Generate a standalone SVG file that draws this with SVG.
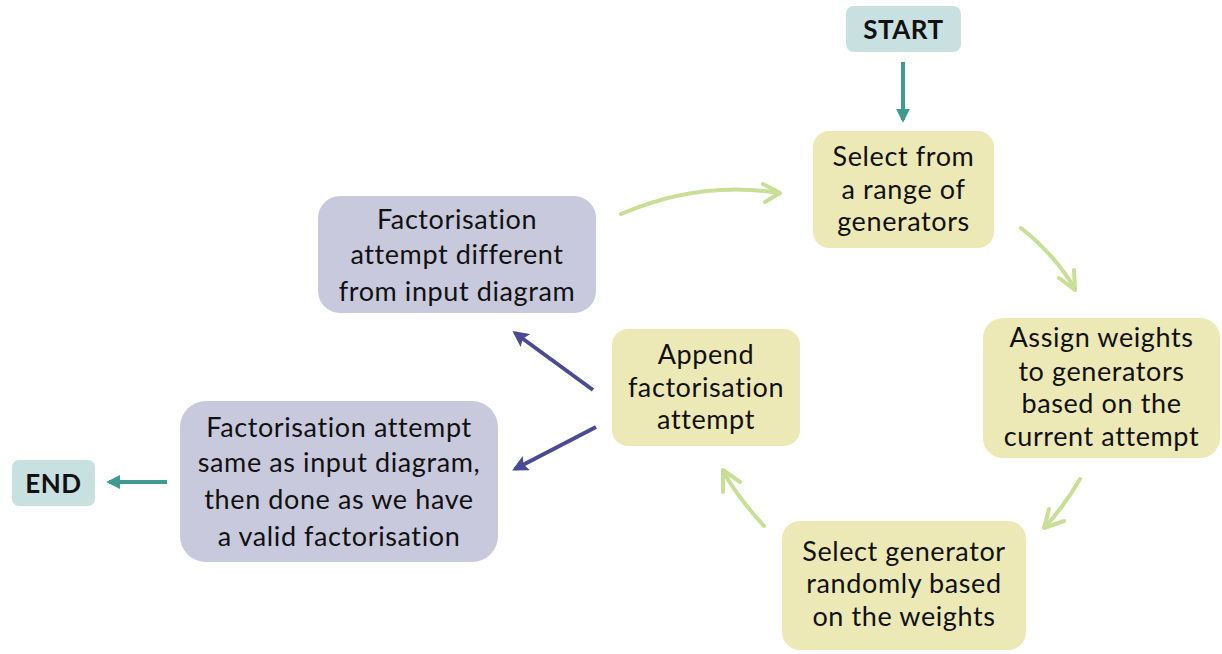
<svg xmlns="http://www.w3.org/2000/svg" width="1222" height="654" viewBox="0 0 1222 654">
<style>
.t{font-family:Lato,"Open Sans",sans-serif;font-size:27px;letter-spacing:0.6px;fill:#111;text-anchor:middle}
.b{font-family:Lato,"Open Sans",sans-serif;font-size:26px;font-weight:bold;letter-spacing:0.5px;fill:#111;text-anchor:middle}
.teal{fill:#c8e0e0}
.yel{fill:#ede9b6}
.pur{fill:#c9c9dd}
.g{fill:none;stroke:#c9de96;stroke-width:4;stroke-linecap:round;stroke-linejoin:round}
.p{fill:none;stroke:#4b4a92;stroke-width:4}
.c{fill:none;stroke:#3f9a8f;stroke-width:4}
</style>
<defs>
<marker id="mp" viewBox="0 0 10 10" refX="8" refY="5" markerWidth="4" markerHeight="4" orient="auto" markerUnits="strokeWidth"><path d="M0,0 L10,5 L0,10 L2,5 z" fill="#4b4a92"/></marker>
<marker id="mc" viewBox="0 0 10 10" refX="8" refY="5" markerWidth="3.5" markerHeight="3.5" orient="auto" markerUnits="strokeWidth"><path d="M0,0 L10,5 L0,10 z" fill="#3f9a8f"/></marker>
</defs>
<rect width="1222" height="654" fill="#fff"/>
<g id="start"><rect class="teal" x="846" y="6" width="115" height="46" rx="8"/><text class="b" x="903.5" y="39">START</text></g>
<g id="n1"><rect class="yel" x="813" y="131" width="181" height="117" rx="16"/>
<text class="t"><tspan x="903.5" y="166">Select from</tspan><tspan x="903.5" y="199">a range of</tspan><tspan x="903.5" y="231">generators</tspan></text></g>
<g id="n2"><rect class="yel" x="983" y="318" width="237" height="140" rx="20"/>
<text class="t"><tspan x="1101.5" y="347">Assign weights</tspan><tspan x="1101.5" y="381">to generators</tspan><tspan x="1101.5" y="413">based on the</tspan><tspan x="1101.5" y="446">current attempt</tspan></text></g>
<g id="n3"><rect class="yel" x="782" y="521" width="244" height="129" rx="18"/>
<text class="t"><tspan x="904" y="561">Select generator</tspan><tspan x="904" y="593">randomly based</tspan><tspan x="904" y="626">on the weights</tspan></text></g>
<g id="n4"><rect class="yel" x="612" y="329" width="188" height="117" rx="16"/>
<text class="t"><tspan x="706" y="364">Append</tspan><tspan x="706" y="397">factorisation</tspan><tspan x="706" y="429">attempt</tspan></text></g>
<g id="n5"><rect class="pur" x="318" y="196" width="278" height="117" rx="22"/>
<text class="t"><tspan x="457" y="229">Factorisation</tspan><tspan x="457" y="264">attempt different</tspan><tspan x="457" y="301">from input diagram</tspan></text></g>
<g id="n6"><rect class="pur" x="180" y="401" width="318" height="161" rx="26"/>
<text class="t"><tspan x="339" y="437">Factorisation attempt</tspan><tspan x="339" y="472">same as input diagram,</tspan><tspan x="339" y="509">then done as we have</tspan><tspan x="339" y="546">a valid factorisation</tspan></text></g>
<g id="end"><rect class="teal" x="12" y="460" width="83" height="46" rx="7"/><text class="b" x="53.5" y="493">END</text></g>
<g id="connectors">
<line class="c" x1="903" y1="62" x2="903" y2="120" marker-end="url(#mc)"/>
<line class="c" x1="167" y1="482" x2="109" y2="482" marker-end="url(#mc)"/>
<line class="p" x1="593" y1="390" x2="515" y2="333" marker-end="url(#mp)"/>
<line class="p" x1="596" y1="427" x2="515" y2="469" marker-end="url(#mp)"/>
<path class="g" d="M621,214 Q700,180 779,193"/><path class="g" d="M763,184 L780,193 L765,202"/>
<path class="g" d="M1021,228 Q1055,255 1075,289"/><path class="g" d="M1059,278 L1075,290 L1074,270"/>
<path class="g" d="M1080,479 Q1065,505 1045,527"/><path class="g" d="M1049,509 L1044,528 L1064,521"/>
<path class="g" d="M764,526 Q740,500 724,473"/><path class="g" d="M723,492 L723,470 L740,482"/>
</g>
</svg>
